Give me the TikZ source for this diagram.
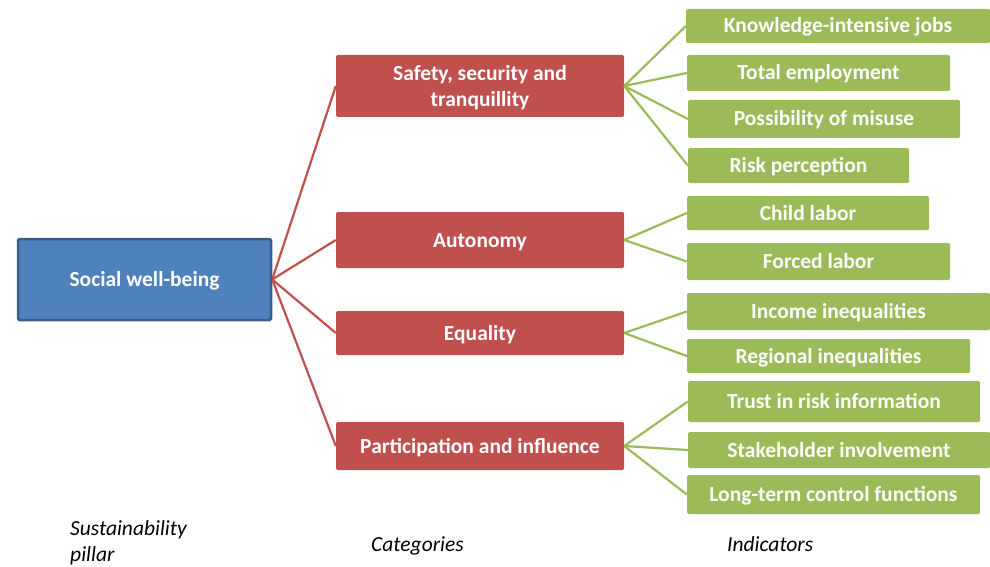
\documentclass[tikz,border=0pt]{standalone}
\usepackage{fontspec}
\setmainfont{Carlito}
\begin{document}
\begin{tikzpicture}[x=1pt,y=-1pt,
  every node/.style={inner sep=0pt},
  lowtext/.style={text height=16pt, text depth=2pt},
  pillarbox/.style={draw=pillarline, line width=2.5pt, fill=pillarfill, rounded corners=1.5pt,
    text=white, lowtext, font=\bfseries\fontsize{21.5}{26}\selectfont},
  catbox/.style={fill=catfill, rounded corners=1.5pt, text=white, align=center,
    font=\bfseries\fontsize{21.5}{26}\selectfont},
  indbox/.style={fill=indfill, rounded corners=1.5pt, text=white, lowtext,
    font=\bfseries\fontsize{21.5}{26}\selectfont},
  catlink/.style={draw=catfill, line width=2.2pt},
  indlink/.style={draw=indfill, line width=2.2pt},
  caption/.style={font=\itshape\fontsize{21.5}{25.5}\selectfont, text=black}]
\definecolor{pillarfill}{HTML}{4F81BD}
\definecolor{pillarline}{HTML}{385D8A}
\definecolor{catfill}{HTML}{C0504D}
\definecolor{indfill}{HTML}{9BBB59}
\useasboundingbox (0,0) rectangle (990,567);

% sustainability pillar
\node[pillarbox, minimum width=253pt, minimum height=81pt] (soc) at (144.5,279.5) {Social well-being};

% categories
\node[catbox, minimum width=288pt, minimum height=62pt] (saf) at (480,86) {\rule{0pt}{18pt}Safety, security and\\tranquillity};
\node[catbox, lowtext, minimum width=288pt, minimum height=56pt] (aut) at (480,240) {Autonomy};
\node[catbox, lowtext, minimum width=288pt, minimum height=44pt] (equ) at (480,333) {Equality};
\node[catbox, lowtext, minimum width=288pt, minimum height=48pt] (par) at (480,446) {Participation and influence};

% indicators
\node[indbox, minimum width=304pt, minimum height=34pt] (i1) at (838,26) {Knowledge-intensive jobs};
\node[indbox, minimum width=263pt, minimum height=36pt] (i2) at (818.5,73) {Total employment};
\node[indbox, minimum width=272pt, minimum height=38pt] (i3) at (824,119) {Possibility of misuse};
\node[indbox, minimum width=221pt, minimum height=35pt] (i4) at (798.5,165.5) {Risk perception};
\node[indbox, minimum width=242pt, minimum height=34pt] (i5) at (808,213) {Child labor};
\node[indbox, minimum width=263pt, minimum height=37pt] (i6) at (818.5,261.5) {Forced labor};
\node[indbox, minimum width=303pt, minimum height=37pt] (i7) at (838.5,311.5) {Income inequalities};
\node[indbox, minimum width=283pt, minimum height=34pt] (i8) at (828.5,356) {Regional inequalities};
\node[indbox, minimum width=292pt, minimum height=41pt] (i9) at (834,401.5) {Trust in risk information};
\node[indbox, minimum width=302pt, minimum height=36pt] (i10) at (839,450) {Stakeholder involvement};
\node[indbox, minimum width=293pt, minimum height=39pt] (i11) at (833.5,494.5) {Long-term control functions};

% pillar to categories
\foreach \c in {saf,aut,equ,par}
  \draw[catlink] (soc.east) -- (\c.west);

% categories to indicators
\foreach \i in {i1,i2,i3,i4}
  \draw[indlink] (saf.east) -- (\i.west);
\foreach \i in {i5,i6}
  \draw[indlink] (aut.east) -- (\i.west);
\foreach \i in {i7,i8}
  \draw[indlink] (equ.east) -- (\i.west);
\foreach \i in {i9,i10,i11}
  \draw[indlink] (par.east) -- (\i.west);

% column captions
\node[caption, anchor=base west, align=left] (cap1) at (70,561) {Sustainability\\pillar};
\node[caption, anchor=base west] (cap2) at (371,551) {Categories};
\node[caption, anchor=base west] (cap3) at (727,551) {Indicators};
\end{tikzpicture}
\end{document}
